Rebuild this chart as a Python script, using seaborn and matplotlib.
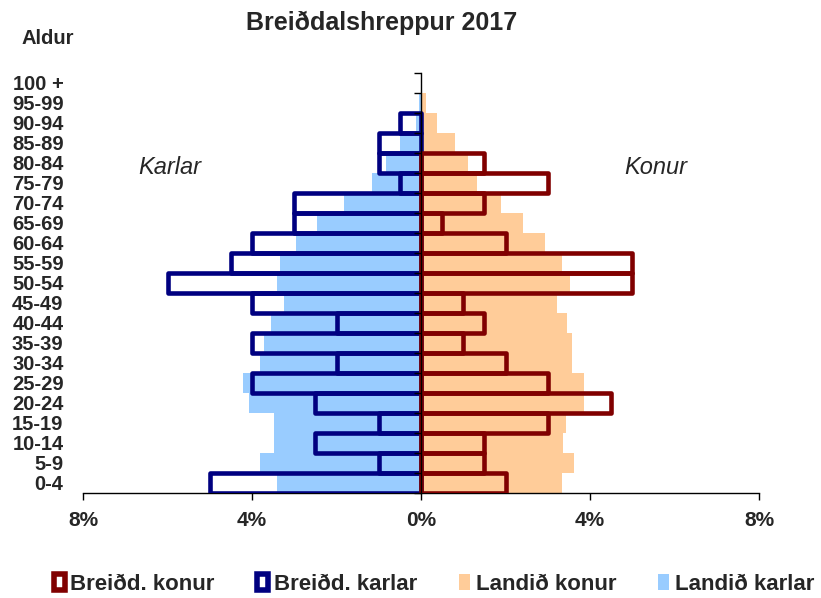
import numpy as np
import pandas as pd
import matplotlib
matplotlib.use('Agg')
import matplotlib.pyplot as plt
from matplotlib.patches import Patch
import seaborn as sns

# age groups, bottom -> top
age_groups = ['0-4', '5-9', '10-14', '15-19', '20-24', '25-29', '30-34', '35-39',
              '40-44', '45-49', '50-54', '55-59', '60-64', '65-69', '70-74',
              '75-79', '80-84', '85-89', '90-94', '95-99', '100 +']

# percent of population
landid_karlar = [3.40, 3.80, 3.47, 3.48, 4.06, 4.22, 3.80, 3.72, 3.56, 3.25, 3.42,
                 3.33, 2.95, 2.45, 1.82, 1.15, 0.83, 0.49, 0.12, 0.04, 0.01]
landid_konur = [3.33, 3.63, 3.35, 3.43, 3.86, 3.86, 3.57, 3.57, 3.46, 3.22, 3.53,
                3.33, 2.93, 2.42, 1.90, 1.32, 1.11, 0.81, 0.38, 0.12, 0.02]
breidd_karlar = [5.0, 1.0, 2.5, 1.0, 2.5, 4.0, 2.0, 4.0, 2.0, 4.0, 6.0,
                 4.5, 4.0, 3.0, 3.0, 0.5, 1.0, 1.0, 0.5, 0.0, 0.0]
breidd_konur = [2.0, 1.5, 1.5, 3.0, 4.5, 3.0, 2.0, 1.0, 1.5, 1.0, 5.0,
                5.0, 2.0, 0.5, 1.5, 3.0, 1.5, 0.0, 0.0, 0.0, 0.0]

x_ticks = [-8, -4, 0, 4, 8]
x_ticklabels = ['8%', '4%', '0%', '4%', '8%']

NAVY = '#000080'
DARKRED = '#800000'
LIGHTBLUE = '#99CCFF'
PEACH = '#FFCC99'

sns.set_theme(style='white')
plt.rcParams['font.family'] = ['Liberation Sans', 'DejaVu Sans']

order = age_groups[::-1]  # top first for seaborn's horizontal layout


def frame(values, sign):
    df = pd.DataFrame({'age': age_groups, 'pct': [sign * v for v in values]})
    return df[df['pct'] != 0]


fig = plt.figure(figsize=(8.21, 5.98), dpi=100)
ax = fig.add_axes([83 / 821, 105 / 598, 676 / 821, 420 / 598])

common = dict(y='age', x='pct', order=order, orient='y', width=1.0,
              errorbar=None, saturation=1, ax=ax)

# white backing of the Breiðdalshreppur bars
sns.barplot(data=frame(breidd_karlar, -1), color='white', linewidth=0, zorder=1, **common)
sns.barplot(data=frame(breidd_konur, 1), color='white', linewidth=0, zorder=1, **common)
# national population
sns.barplot(data=frame(landid_karlar, -1), color=LIGHTBLUE, linewidth=0, zorder=2, **common)
sns.barplot(data=frame(landid_konur, 1), color=PEACH, linewidth=0, zorder=2, **common)
# Breiðdalshreppur outlines
sns.barplot(data=frame(breidd_karlar, -1), fill=False, color=NAVY, linewidth=3.3,
            joinstyle='round', zorder=3, **common)
sns.barplot(data=frame(breidd_konur, 1), fill=False, color=DARKRED, linewidth=3.3,
            joinstyle='round', zorder=4, **common)

ax.set_xlim(-8, 8)
ax.set_ylim(len(age_groups) - 0.5, -0.5)
ax.set_xlabel('')
ax.set_ylabel('')
ax.set_xticks(x_ticks)
ax.set_xticklabels(x_ticklabels, fontsize=15, fontweight='bold')
ax.tick_params(axis='x', direction='out', length=5, width=1, color='black', pad=8,
               bottom=True)
ax.tick_params(axis='y', length=0, pad=14)
for lab in ax.get_yticklabels():
    lab.set_fontsize(14.5)
    lab.set_fontweight('bold')
for s in ['top', 'left', 'right']:
    ax.spines[s].set_visible(False)
ax.spines['bottom'].set_color('black')
ax.spines['bottom'].set_linewidth(1)

# vertical axis line at 0 with ticks between age groups
ax2 = ax.twinx()
ax2.set_ylim(ax.get_ylim())
ax2.set_yticks(np.arange(-0.5, len(age_groups), 1))
ax2.set_yticklabels([])
ax2.spines['right'].set_position(('data', 0))
ax2.spines['right'].set_color('black')
ax2.spines['right'].set_linewidth(1)
for s in ['top', 'left', 'bottom']:
    ax2.spines[s].set_visible(False)
ax2.tick_params(axis='y', direction='in', length=5, width=1, color='black')
ax2.grid(False)

fig.text(382 / 821, 1 - 23 / 598, 'Breiðdalshreppur 2017', ha='center', va='center',
         fontsize=18, fontweight='bold')
fig.text(48 / 821, 1 - 38 / 598, 'Aldur', ha='center', va='center',
         fontsize=14.5, fontweight='bold')
fig.text(170 / 821, 1 - 168 / 598, 'Karlar', ha='center', va='center',
         fontsize=17, fontstyle='italic')
fig.text(656 / 821, 1 - 168 / 598, 'Konur', ha='center', va='center',
         fontsize=17, fontstyle='italic')

handles = [
    Patch(facecolor='white', edgecolor=DARKRED, linewidth=4, label='Breiðd. konur'),
    Patch(facecolor='white', edgecolor=NAVY, linewidth=4, label='Breiðd. karlar'),
    Patch(facecolor=PEACH, edgecolor='none', label='Landið konur'),
    Patch(facecolor=LIGHTBLUE, edgecolor='none', label='Landið karlar'),
]
fig.legend(handles=handles, loc='center', bbox_to_anchor=(434 / 821, 1 - 584 / 598),
           ncol=4, frameon=False, handlelength=0.5, handleheight=0.75,
           handletextpad=0.25, columnspacing=1.9,
           prop={'size': 16, 'weight': 'bold'})

fig.savefig('out.png', dpi=100)
